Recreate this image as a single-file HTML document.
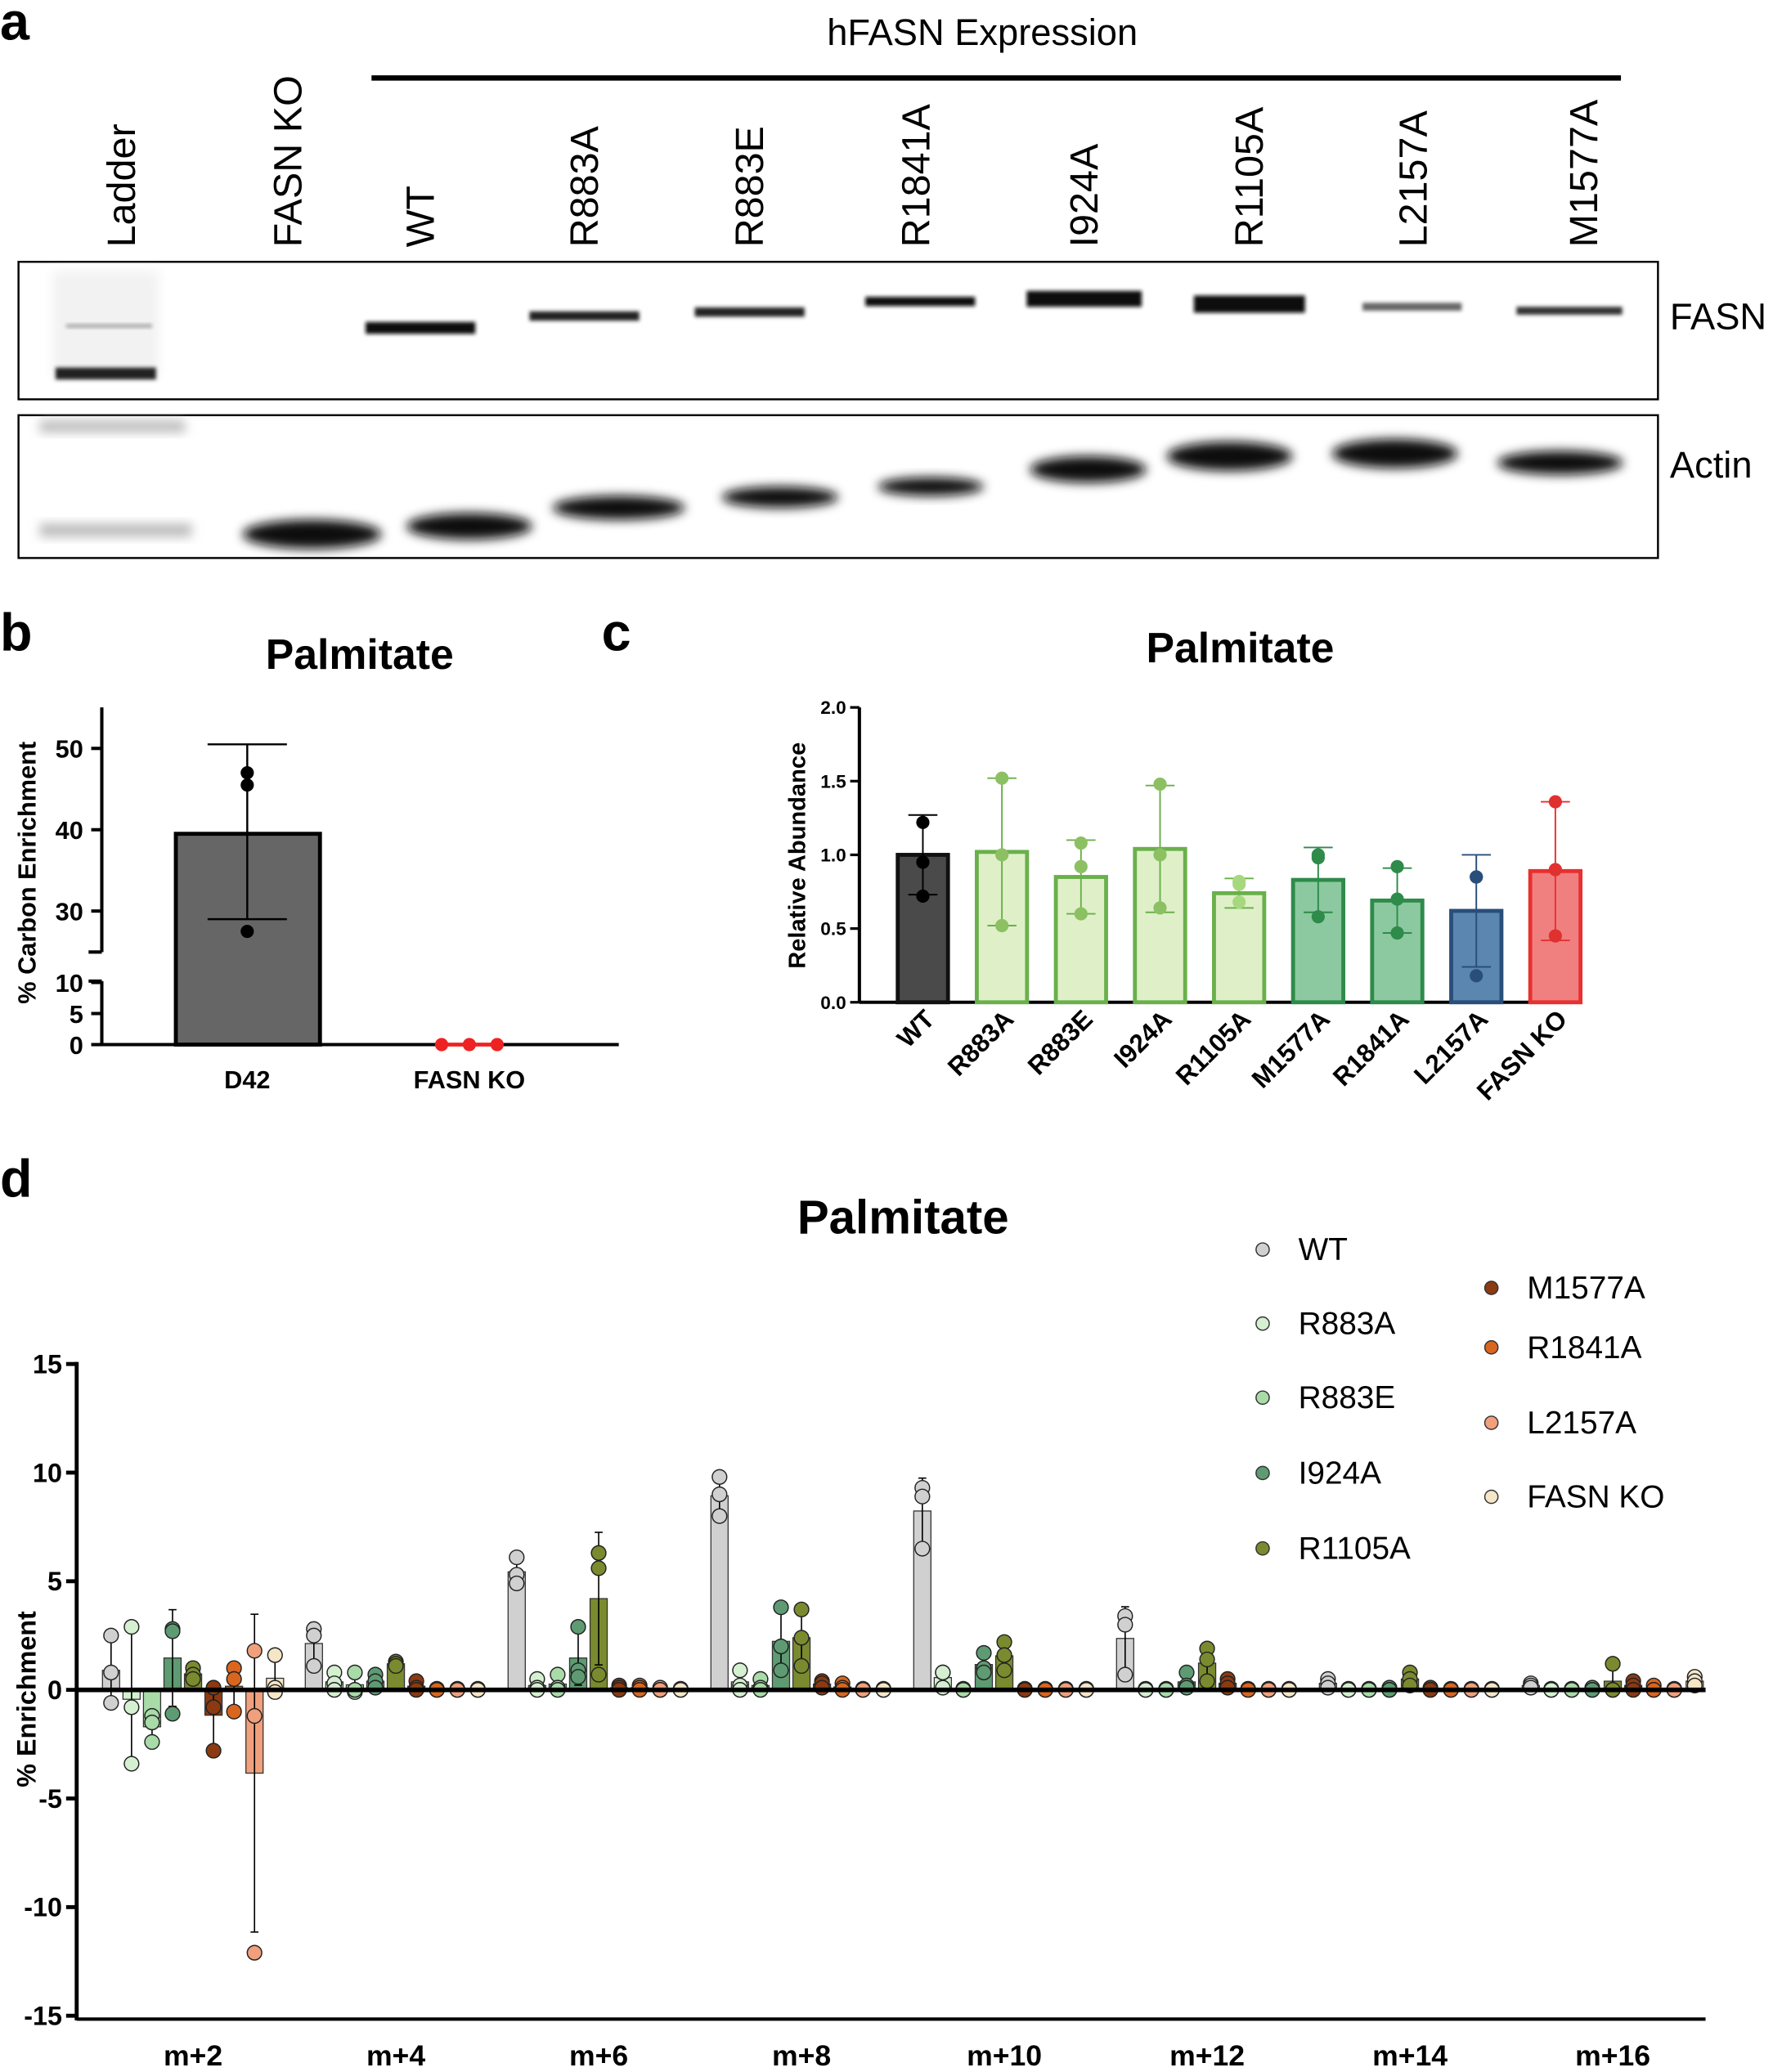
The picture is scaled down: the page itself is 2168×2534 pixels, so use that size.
<!DOCTYPE html>
<html><head><meta charset="utf-8"><style>
html,body{margin:0;padding:0;background:#fff}
svg{display:block}
text{font-family:"Liberation Sans",Arial,sans-serif}
</style></head><body>
<svg id="s" width="2168" height="2534" viewBox="0 0 1341 1567" preserveAspectRatio="none" xmlns="http://www.w3.org/2000/svg">
<defs>
<filter id="bl" x="-50%" y="-50%" width="200%" height="200%"><feGaussianBlur stdDeviation="4"/></filter>
<filter id="bl2" x="-50%" y="-50%" width="200%" height="200%"><feGaussianBlur stdDeviation="1.5"/></filter>
</defs>
<rect width="1341" height="1567" fill="#fff"/>
<g font-weight="bold" font-size="40">
<text x="0" y="30">a</text><text x="0" y="492">b</text><text x="455" y="492">c</text><text x="0" y="905">d</text>
</g>
<text x="743" y="34" font-size="28" text-anchor="middle">hFASN Expression</text>
<line x1="281" y1="59" x2="1226" y2="59" stroke="#000" stroke-width="4"/>
<g font-size="30" id="lanes"></g>
<rect x="14" y="198" width="1240" height="104" fill="#fff" stroke="#000" stroke-width="1.5"/>
<rect x="14" y="314" width="1240" height="108" fill="#fff" stroke="#000" stroke-width="1.5"/>
<g id="bands"></g>
<text x="1263" y="249" font-size="28">FASN</text>
<text x="1263" y="361" font-size="28">Actin</text>
<g id="pb"></g><g id="pc"></g><g id="pd"></g>
</svg>
<script>
const NS="http://www.w3.org/2000/svg";
function el(p,t,a,txt){const e=document.createElementNS(NS,t);for(const k in a)e.setAttribute(k,a[k]);if(txt!==undefined)e.textContent=txt;p.appendChild(e);return e;}
const L=document.getElementById('lanes');
[["Ladder",92],["FASN KO",218],["WT",318],["R883A",442],["R883E",567],["R1841A",693],["I924A",820],["R1105A",945],["L2157A",1069],["M1577A",1198]].forEach(([t,x])=>{
 el(L,'text',{x:0,y:0,transform:`translate(${x+10},187) rotate(-90)`},t);});
const B=document.getElementById('bands');
el(B,'rect',{x:40,y:205,width:80,height:80,fill:'#f2f2f2',filter:'url(#bl)'});
el(B,'rect',{x:42,y:278,width:76,height:9,fill:'#222',filter:'url(#bl2)'});
el(B,'rect',{x:50,y:245,width:65,height:3,fill:'#aaa',filter:'url(#bl2)'});
[[318,248,83,9,'#111'],[442,239,83,7,'#222'],[567,236,83,7,'#222'],[696,228,83,7,'#111'],[820,226,87,12,'#111'],[945,230,84,13,'#111'],[1068,232,75,6,'#666'],[1187,235,80,6,'#333']].forEach(([x,y,w,h,c])=>{
 el(B,'rect',{x:x-w/2,y:y-h/2,width:w,height:h,fill:c,filter:'url(#bl2)'});});
el(B,'rect',{x:30,y:318,width:110,height:9,fill:'#bbb',filter:'url(#bl)'});
el(B,'rect',{x:30,y:396,width:115,height:10,fill:'#bbb',filter:'url(#bl)'});
[[236,404,105,22],[355,398,95,20],[468,384,100,18],[590,376,88,16],[704,368,80,14],[823,355,88,20],[930,345,95,22],[1055,343,95,22],[1180,350,95,18]].forEach(([x,y,w,h])=>{
 el(B,'ellipse',{cx:x,cy:y,rx:w/2,ry:h/2,fill:'#111',filter:'url(#bl)'});});
const PB=document.getElementById('pb');
el(PB,'text',{x:272,y:506,'font-size':32,'font-weight':'bold','text-anchor':'middle'},'Palmitate');
el(PB,'line',{x1:77,y1:535,x2:77,y2:720,stroke:'#000','stroke-width':2.5});
el(PB,'line',{x1:77,y1:742,x2:77,y2:790,stroke:'#000','stroke-width':2.5});
el(PB,'line',{x1:67,y1:720,x2:77,y2:720,stroke:'#000','stroke-width':2.5});
el(PB,'line',{x1:67,y1:742,x2:77,y2:742,stroke:'#000','stroke-width':2.5});
el(PB,'line',{x1:77,y1:790,x2:468,y2:790,stroke:'#000','stroke-width':2.5});
const yb=v=>v>=20?689-(v-30)*6.15:790-v*4.7;
[50,40,30,10,5,0].forEach(v=>{el(PB,'line',{x1:69,y1:yb(v),x2:77,y2:yb(v),stroke:'#000','stroke-width':2.5});
 el(PB,'text',{x:63,y:yb(v)+7,'font-size':19,'font-weight':'bold','text-anchor':'end'},v);});
el(PB,'text',{x:0,y:0,transform:'translate(27,660) rotate(-90)','font-size':19,'font-weight':'bold','text-anchor':'middle'},'% Carbon Enrichment');
el(PB,'rect',{x:133,y:yb(39.5),width:109,height:790-yb(39.5),fill:'#666',stroke:'#000','stroke-width':3});
el(PB,'line',{x1:187,y1:yb(50.5),x2:187,y2:yb(29),stroke:'#000','stroke-width':1.5});
el(PB,'line',{x1:157,y1:yb(50.5),x2:217,y2:yb(50.5),stroke:'#000','stroke-width':1.5});
el(PB,'line',{x1:157,y1:yb(29),x2:217,y2:yb(29),stroke:'#000','stroke-width':1.5});
[47,45.5,27.5].forEach(v=>el(PB,'circle',{cx:187,cy:yb(v),r:5,fill:'#000'}));
el(PB,'line',{x1:334,y1:790,x2:376,y2:790,stroke:'#e22',"stroke-width":3});
[334,355,376].forEach(x=>el(PB,'circle',{cx:x,cy:790,r:5,fill:'#e22'}));
el(PB,'text',{x:187,y:823,'font-size':19,'font-weight':'bold','text-anchor':'middle'},'D42');
el(PB,'text',{x:355,y:823,'font-size':19,'font-weight':'bold','text-anchor':'middle'},'FASN KO');
const PC=document.getElementById('pc');
el(PC,'text',{x:938,y:501,'font-size':32,'font-weight':'bold','text-anchor':'middle'},'Palmitate');
const yc=v=>758-v*111.5;
el(PC,'line',{x1:650,y1:535,x2:650,y2:758,stroke:'#000','stroke-width':2.5});
el(PC,'line',{x1:650,y1:758,x2:1190,y2:758,stroke:'#000','stroke-width':2.5});
[0,0.5,1,1.5,2].forEach(v=>{el(PC,'line',{x1:643,y1:yc(v),x2:650,y2:yc(v),stroke:'#000','stroke-width':2});
 el(PC,'text',{x:640,y:yc(v)+5,'font-size':14,'font-weight':'bold','text-anchor':'end'},v.toFixed(1));});
el(PC,'text',{x:0,y:0,transform:'translate(609,647) rotate(-90)','font-size':18,'font-weight':'bold','text-anchor':'middle'},'Relative Abundance');
const G1=['#dff0c8','#6ab04c'],G2=['#8cc9a0','#2e8b4a'];
const cd=[["WT",1.0,0.27,[1.22,0.95,0.72],'#4a4a4a','#111','#000'],
["R883A",1.02,0.5,[1.52,1.0,0.52],G1[0],G1[1],'#8cc063'],
["R883E",0.85,0.25,[1.08,0.92,0.6],G1[0],G1[1],'#8cc063'],
["I924A",1.04,0.43,[1.48,1.0,0.64],G1[0],G1[1],'#8cc063'],
["R1105A",0.74,0.1,[0.82,0.8,0.68],G1[0],G1[1],'#a8d87e'],
["M1577A",0.83,0.22,[1.0,0.98,0.58],G2[0],G2[1],'#2e8b4a'],
["R1841A",0.69,0.22,[0.92,0.7,0.47],G2[0],G2[1],'#2e8b4a'],
["L2157A",0.62,0.38,[0.85,0.85,0.18],'#5b86b0','#2a4e7a','#2a4e7a'],
["FASN KO",0.89,0.47,[1.36,0.9,0.45],'#f08080','#e83030','#e03030']];
cd.forEach((d,i)=>{const x=698+i*59.8;
 el(PC,'rect',{x:x-19,y:yc(d[1]),width:38,height:758-yc(d[1]),fill:d[4],stroke:d[5],'stroke-width':3});
 const ec=i==0?'#000':d[5];
 el(PC,'line',{x1:x,y1:yc(d[1]+d[2]),x2:x,y2:yc(d[1]-d[2]),stroke:ec,'stroke-width':1.2});
 [d[1]+d[2],d[1]-d[2]].forEach(v=>el(PC,'line',{x1:x-11,y1:yc(v),x2:x+11,y2:yc(v),stroke:ec,'stroke-width':1.2}));
 d[3].forEach((v,j)=>el(PC,'circle',{cx:x,cy:yc(v),r:5,fill:d[6]}));
 el(PC,'text',{x:0,y:0,transform:`translate(${x+10},772) rotate(-45)`,'font-size':19.5,'font-weight':'bold','text-anchor':'end'},d[0]);
});
const PD=document.getElementById('pd');
el(PD,'text',{x:683,y:933,'font-size':36,'font-weight':'bold','text-anchor':'middle'},'Palmitate');
const yd=v=>1278-v*16.43;
el(PD,'line',{x1:58,y1:1030,x2:58,y2:1528,stroke:'#000','stroke-width':3});
el(PD,'line',{x1:58,y1:1527,x2:1290,y2:1527,stroke:'#000','stroke-width':2.5});
[15,10,5,0,-5,-10,-15].forEach(v=>{el(PD,'line',{x1:50,y1:yd(v),x2:58,y2:yd(v),stroke:'#000','stroke-width':3});
 el(PD,'text',{x:47,y:yd(v)+7,'font-size':20,'font-weight':'bold','text-anchor':'end'},v);});
el(PD,'text',{x:0,y:0,transform:'translate(27,1285) rotate(-90)','font-size':20,'font-weight':'bold','text-anchor':'middle'},'% Enrichment');
const cols=['#d0d0d0','#d4f0d0','#a8dba8','#5e9b72','#7a8a2e','#8b3a12','#d9661f','#f0a07c','#f5e6c8'];
const names=['m+2','m+4','m+6','m+8','m+10','m+12','m+14','m+16'];
const Z=[0,0.05,0];
const data=[
[[2.5,0.8,-0.6],[2.9,-0.8,-3.4],[-1.2,-1.5,-2.4],[2.8,2.7,-1.1],[1.0,0.7,0.5],[0.1,-0.8,-2.8],[1.0,0.5,-1.0],[1.8,-1.2,-12.1],[1.6,0.1,-0.1]],
[[2.8,2.5,1.1],[0.8,0.3,0.0],[0.8,-0.1,0],[0.7,0.4,0.1],[1.3,1.2,1.1],[0.4,0.1,0],Z,Z,Z],
[[6.1,5.3,4.9],[0.5,0.1,0],[0.7,0.1,0],[2.9,0.9,0.6],[6.3,5.6,0.7],[0.2,0.1,0],[0.2,0.1,0],[0.1,0,0],Z],
[[9.8,9.0,8.0],[0.9,0.2,0],[0.5,0.1,0],[3.8,2.0,0.9],[3.7,2.4,1.1],[0.4,0.3,0.1],[0.3,0.1,0],Z,Z],
[[9.3,8.9,6.5],[0.8,0.8,0.1],Z,[1.7,1.0,0.8],[2.2,1.6,0.9],Z,Z,Z,Z],
[[3.4,3.0,0.7],Z,Z,[0.8,0.2,0.1],[1.9,1.4,0.4],[0.5,0.3,0.1],Z,Z,Z],
[[0.5,0.3,0.1],Z,Z,[0.1,0,0],[0.8,0.5,0.2],[0.1,0,0],Z,Z,Z],
[[0.3,0.2,0.1],Z,Z,[0.1,0,0],[1.2,0,0],[0.4,0.2,0],[0.2,0,0],Z,[0.6,0.4,0.2]]];
const gb=document.createElementNS(NS,'g');PD.appendChild(gb);
names.forEach((n,g)=>{const cx=146+g*153.4;
 el(PD,'text',{x:cx,y:1562,'font-size':22,'font-weight':'bold','text-anchor':'middle'},n);
 data[g].forEach((pts,i)=>{const x=cx-62+i*15.5;
  const m=(pts[0]+pts[1]+pts[2])/3;const sd=Math.sqrt(pts.reduce((a,p)=>a+(p-m)*(p-m),0)/2);
  const y0=Math.min(yd(m),1278),h=Math.abs(yd(m)-1278);
  el(gb,'rect',{x:x-6.5,y:y0,width:13,height:h,fill:cols[i],stroke:'#333','stroke-width':0.8});
  if(sd>0.2){el(gb,'line',{x1:x,y1:yd(m+sd),x2:x,y2:yd(m-sd),stroke:'#000','stroke-width':1});
   [m+sd,m-sd].forEach(v=>el(gb,'line',{x1:x-3,y1:yd(v),x2:x+3,y2:yd(v),stroke:'#000','stroke-width':1}));}
  pts.forEach(v=>el(gb,'circle',{cx:x,cy:yd(v),r:5.5,fill:cols[i],stroke:'#222','stroke-width':0.9}));
 });});
el(PD,'line',{x1:58,y1:1278,x2:1290,y2:1278,stroke:'#000','stroke-width':3.5});
const leg=[["WT",955,944],["R883A",955,1000],["R883E",955,1056],["I924A",955,1113],["R1105A",955,1170],["M1577A",1128,973],["R1841A",1128,1018],["L2157A",1128,1075],["FASN KO",1128,1131]];
leg.forEach((d,i)=>{el(PD,'circle',{cx:d[1],cy:d[2]+1,r:5,fill:cols[i],stroke:'#333','stroke-width':0.9});
 el(PD,'text',{x:d[1]+27,y:d[2]+9,'font-size':24},d[0]);});
</script>
</body></html>
